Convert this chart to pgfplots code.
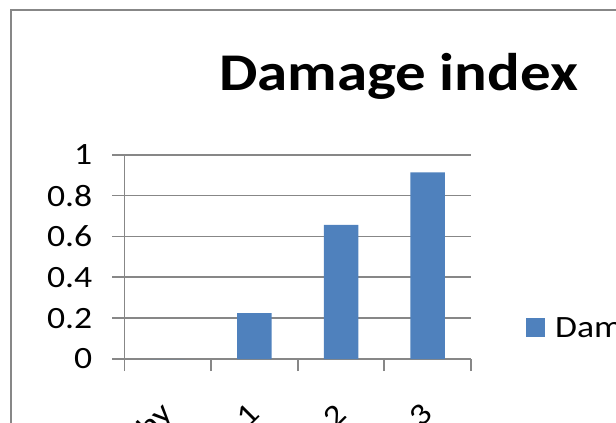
\documentclass[border=0pt]{standalone}
\usepackage{pgfplots}
\pgfplotsset{compat=1.18}
\usepackage{fontspec}
\setmainfont{Carlito}
\definecolor{barblue}{HTML}{4F81BD}
\definecolor{gridgray}{HTML}{878787}
\newcommand{\sx}[1]{\scalebox{1.15}[1]{#1}}
\begin{document}
\begin{tikzpicture}[x=1pt,y=1pt]
\useasboundingbox (0,0) rectangle (616,423);
\clip (0,0) rectangle (616,423);
\draw[gridgray, line width=2pt] (11,-20) -- (11,412.5) -- (700,412.5);
\begin{axis}[
  at={(124.5pt,64pt)}, anchor=south west,
  scale only axis, width=346.5pt, height=204.3pt,
  xmin=-0.5, xmax=3.5, ymin=0, ymax=1,
  axis x line=bottom, axis y line=left,
  axis line style={gridgray, line width=1.8pt, -},
  ybar, bar width=34.5pt,
  xtick={0,1,2,3},
  xticklabels={\sx{Healthy},\sx{1},\sx{2},\sx{3}},
  major x tick style={draw=none},
  minor xtick={-0.5,0.5,1.5,2.5,3.5},
  minor tick length=12pt,
  minor x tick style={gridgray, line width=1.8pt},
  ytick={0,0.2,0.4,0.6,0.8,1},
  yticklabels={\sx{0},\sx{0.2},\sx{0.4},\sx{0.6},\sx{0.8},\sx{1}},
  tick align=outside,
  major tick length=12pt,
  major y tick style={gridgray, line width=1.8pt},
  ymajorgrids,
  grid style={gridgray, line width=1.8pt},
  yticklabel style={font=\fontsize{31}{36}\selectfont, anchor=east, inner sep=0pt, xshift=-20pt},
  xticklabel style={font=\fontsize{31}{36}\selectfont, inner sep=0pt, yshift=-38pt, rotate=45, anchor=east},
  title={\sx{Damage index}},
  title style={at={(0.791,1.3216)}, anchor=base, yshift=-8pt, font=\fontsize{53}{60}\selectfont\bfseries, inner sep=0pt},
  legend style={at={(1,0)}, anchor=west, xshift=55pt, yshift=31.5pt, draw=none, fill=none,
    font=\fontsize{31}{36}\selectfont, inner sep=0pt},
  legend image code/.code={\fill[barblue] (0pt,-9.5pt) rectangle (19pt,9.5pt); \path (27pt,0pt);},
  clip=false,
]
\addplot[fill=barblue, draw=none] coordinates {(0,0) (1,0.224) (2,0.656) (3,0.914)};
\addlegendentry{\sx{Damage index}}
\end{axis}
\end{tikzpicture}
\end{document}
